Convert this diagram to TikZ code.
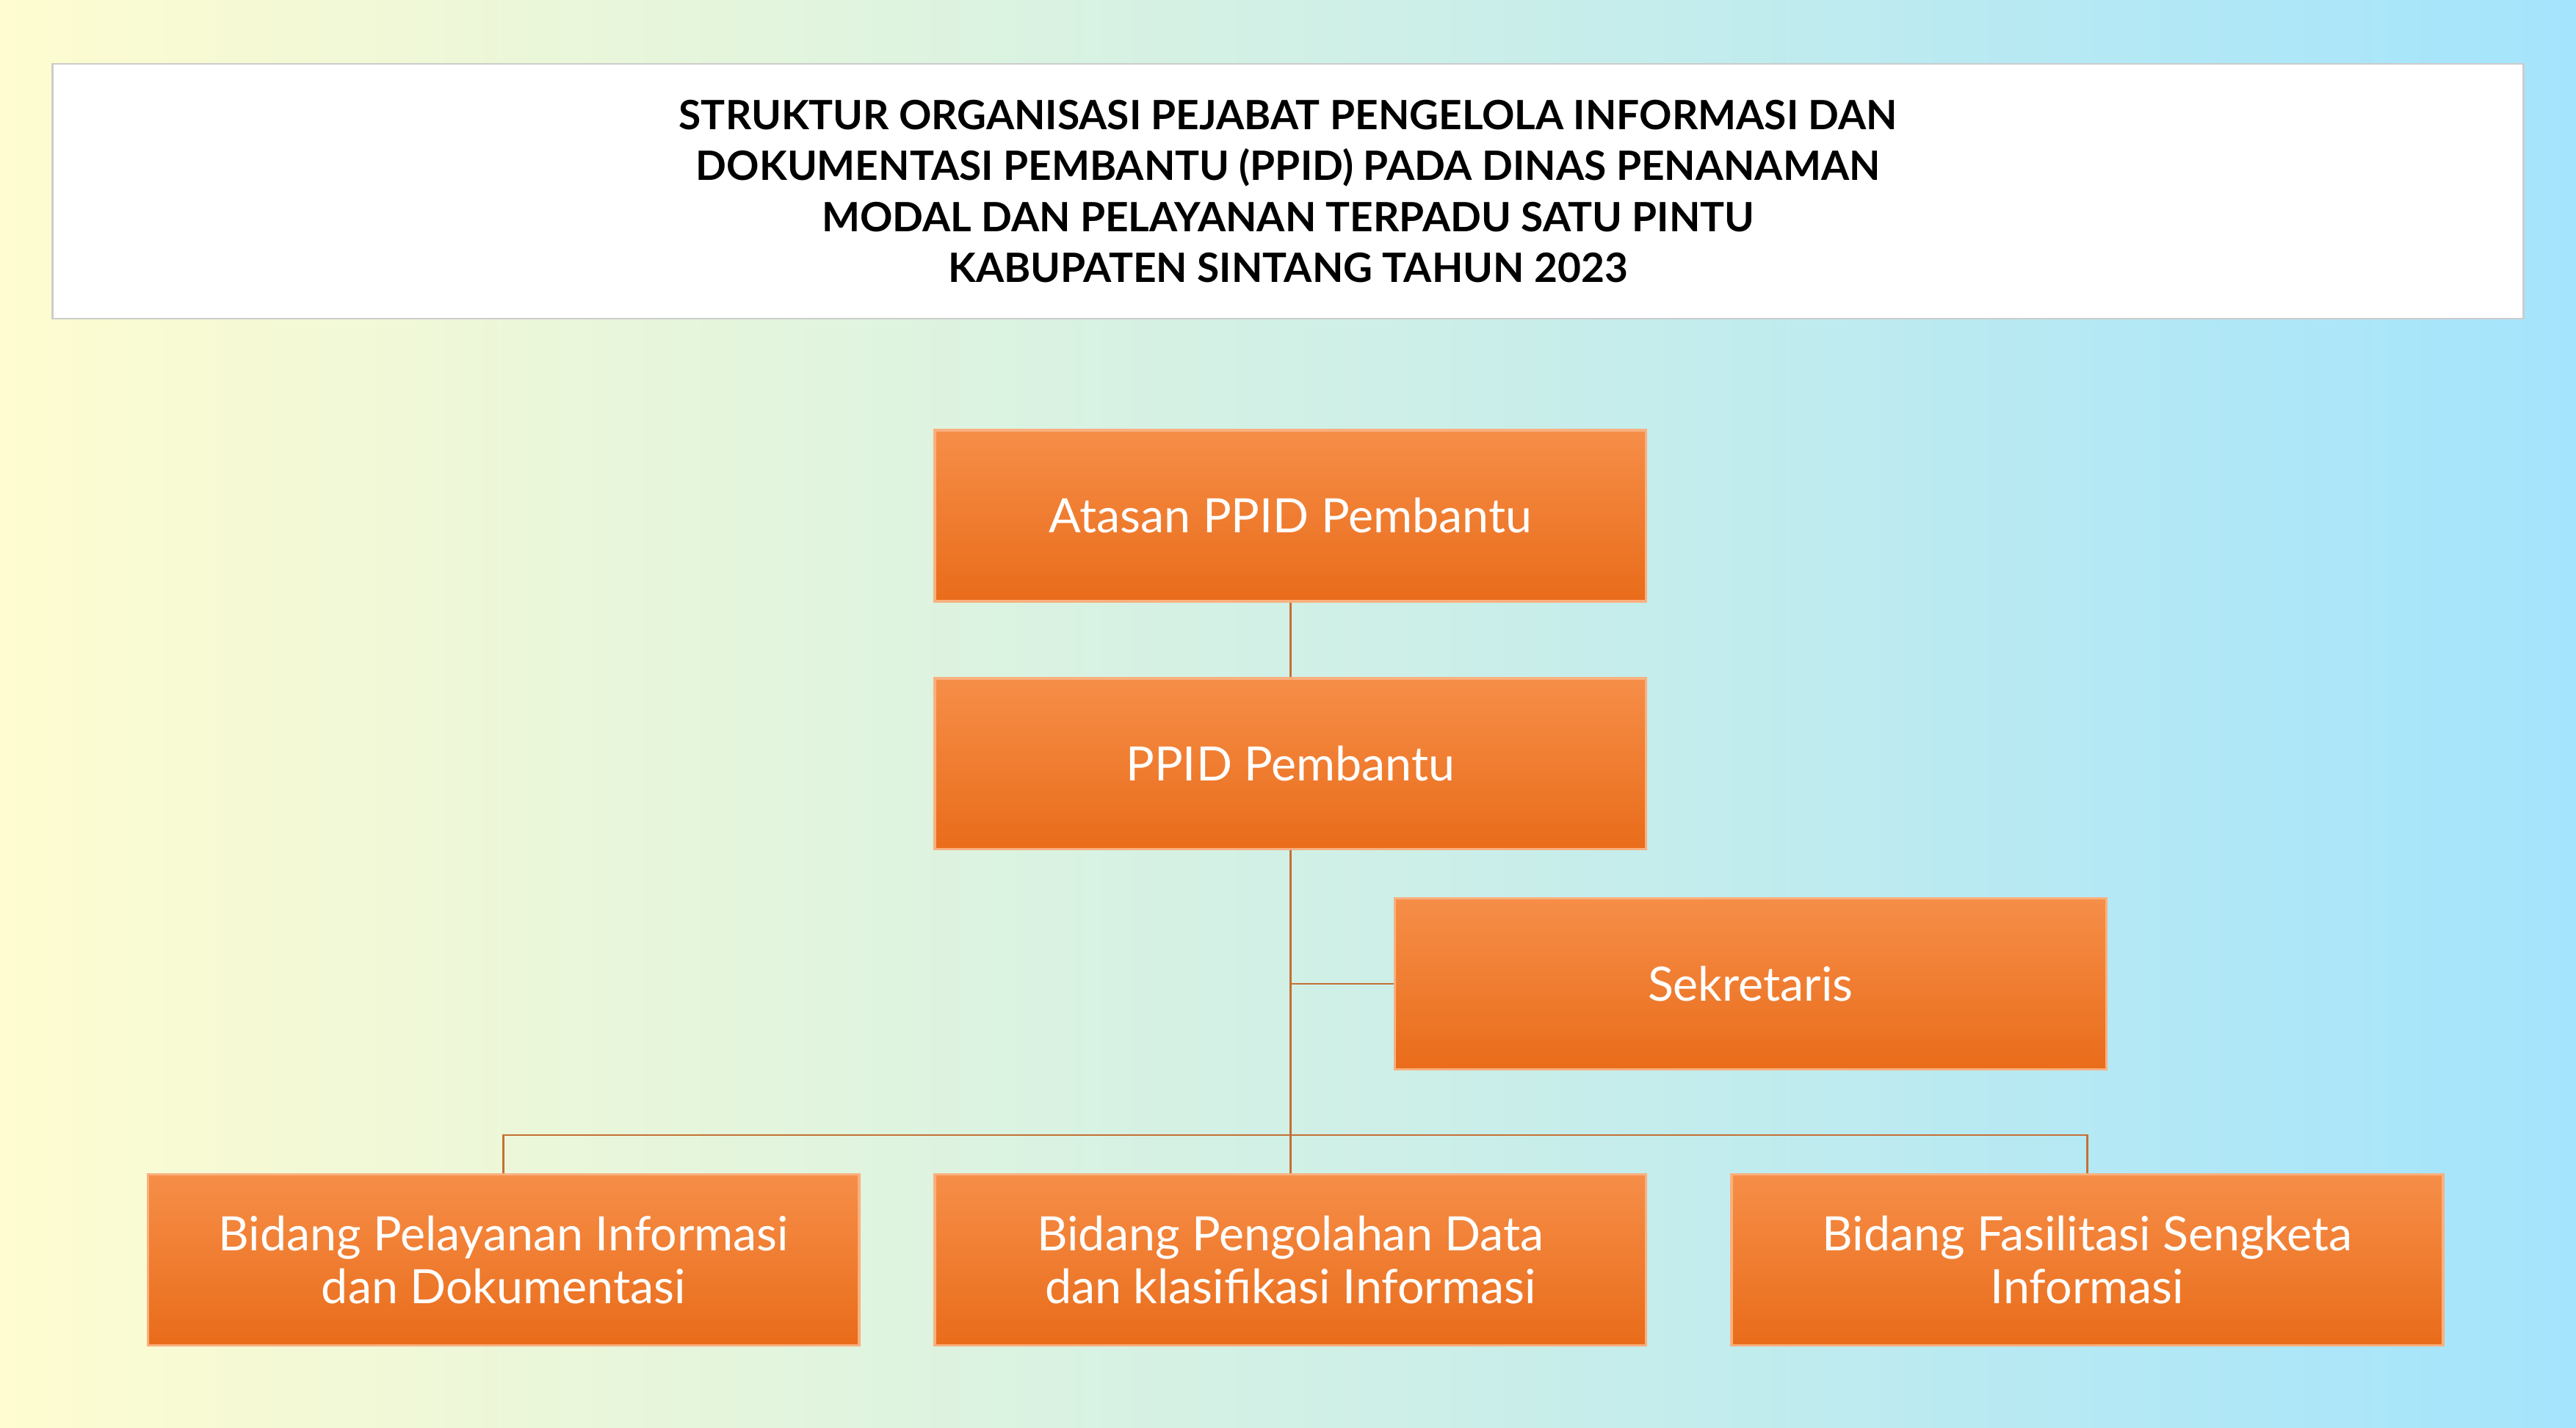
\documentclass[tikz,border=0pt]{standalone}
\usepackage{fontspec}
\setmainfont{Lato}
\usetikzlibrary{positioning}
\definecolor{bgyellow}{RGB}{254,252,208}
\definecolor{bgblue}{RGB}{164,228,252}
\definecolor{boxtop}{RGB}{246,142,72}
\definecolor{boxbot}{RGB}{233,108,26}
\definecolor{linkcol}{RGB}{196,112,52}
\tikzset{
    box/.style={draw=boxtop!70!white, line width=1.5mm, top color=boxtop, bottom color=boxbot,
        minimum width=433mm, minimum height=104mm, text=white, align=center,
        font=\fontsize{82}{92}\selectfont, inner sep=0pt},
    link/.style={draw=linkcol, line width=1.2mm}
}
\begin{document}
\begin{tikzpicture}[x=1mm, y=-1mm]
    \useasboundingbox (0,0) rectangle (1568,869);
    \shade [left color=bgyellow, right color=bgblue] (0,0) rectangle (1568,869);
    % title
    \node (title) [draw=black!20, line width=1mm, fill=white, minimum width=1504mm, minimum height=155mm,
        align=center, font=\bfseries\fontsize{70}{88}\selectfont, inner sep=0pt] at (784,116.5)
        {STRUKTUR ORGANISASI PEJABAT PENGELOLA INFORMASI DAN\\
         DOKUMENTASI PEMBANTU (PPID) PADA DINAS PENANAMAN\\
         MODAL DAN PELAYANAN TERPADU SATU PINTU\\
         KABUPATEN SINTANG TAHUN 2023};
    % boxes
    \node (atasan) [box] at (785.5,314) {Atasan PPID Pembantu};
    \node (ppid) [box] at (785.5,465) {PPID Pembantu};
    \node (sekr) [box] at (1065.5,599) {Sekretaris};
    \node (bid1) [box] at (306.5,767) {Bidang Pelayanan Informasi\\dan Dokumentasi};
    \node (bid2) [box] at (785.5,767) {Bidang Pengolahan Data\\dan klasifikasi Informasi};
    \node (bid3) [box] at (1270.5,767) {Bidang Fasilitasi Sengketa\\Informasi};
    % links
    \coordinate (split) at (785.5,691);
    \coordinate (sjoin) at (785.5,599);
    \draw [link] (atasan.south) -- (ppid.north);
    \draw [link] (ppid.south) -- (bid2.north);
    \draw [link] (sjoin) -- (sekr.west);
    \draw [link] (bid1.north) |- (split) -| (bid3.north);
\end{tikzpicture}
\end{document}
